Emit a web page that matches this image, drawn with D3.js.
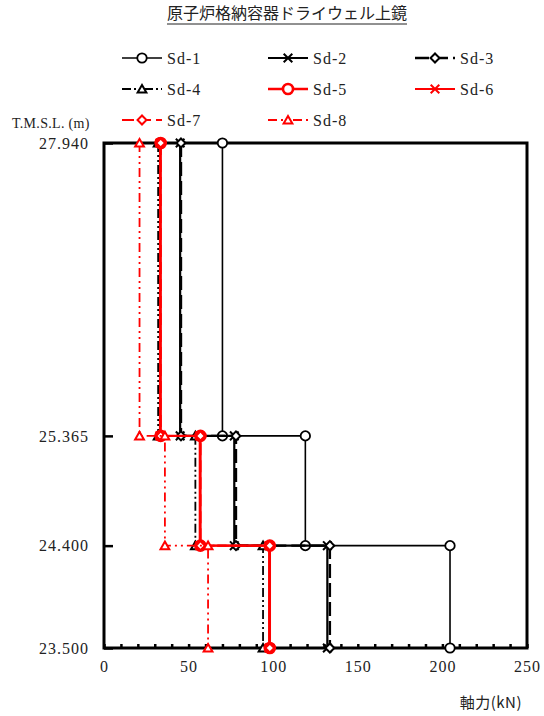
<!DOCTYPE html>
<meta charset="utf-8">
<style>
body { margin: 0; background: #fff; }
text { font-family: "Liberation Serif", "DejaVu Serif", serif; font-size: 16px; fill: #222; letter-spacing: 1px; }
.title { font-family: "Noto Sans CJK JP", sans-serif; font-size: 16px; letter-spacing: 0; }
.jp { font-family: "Noto Sans CJK JP", sans-serif; font-size: 15px; letter-spacing: 0.5px; }
.ylab { font-size: 14px; letter-spacing: 0.3px; }
.axis path { display: none; }
.axis line { stroke: #000; stroke-width: 2.5; }
</style>
<svg width="544" height="716"></svg>
<script src="https://d3js.org/d3.v7.min.js"></script>
<script>

// levels (T.M.S.L., m) and tick labels
var levels = [27.940, 25.365, 24.400, 23.500];
var levelLabels = ["27.940", "25.365", "24.400", "23.500"];
var xTicks = [0, 50, 100, 150, 200, 250];
var xMinorTicks = [0, 10, 20, 30, 40, 50, 60, 70, 80, 90, 100, 110, 120, 130, 140, 150,
                   160, 170, 180, 190, 200, 210, 220, 230, 240, 250];

// axial force per section (kN): 27.940-25.365, 25.365-24.400, 24.400-23.500
var seriesNames = ["Sd-1", "Sd-2", "Sd-3", "Sd-4", "Sd-5", "Sd-6", "Sd-7", "Sd-8"];
var sd1 = [70, 119, 204.5];
var sd2 = [45, 77, 132];
var sd3 = [45.5, 78, 133.5];
var sd4 = [32, 54, 94];
var sd5 = [33.5, 57, 98];
var sd6 = [33, 56.5, 97.5];
var sd7 = [33.5, 57, 98];
var sd8 = [21, 36, 61.5];
var seriesValues = [sd1, sd2, sd3, sd4, sd5, sd6, sd7, sd8];

// looks
var styles = [
  {color: "#000", width: 1.6, dash: null,            sym: "circle",   size: 70},
  {color: "#000", width: 2.2, dash: null,            sym: "x",        size: 50},
  {color: "#000", width: 2.4, dash: "14,5",          sym: "diamond",  size: 40},
  {color: "#000", width: 1.8, dash: "9,3,2,3,2,3",   sym: "triangle", size: 55},
  {color: "#f00", width: 2.4, dash: null,            sym: "circle",   size: 80},
  {color: "#f00", width: 1.8, dash: null,            sym: "x",        size: 50},
  {color: "#f00", width: 2.0, dash: "12,5",          sym: "diamond",  size: 40},
  {color: "#f00", width: 1.8, dash: "9,4,2,4,2,4",   sym: "triangle", size: 55}
];

var svg = d3.select("svg"),
    margin = {top: 143, right: 17, bottom: 68, left: 104},
    width = 544 - margin.left - margin.right,
    height = 716 - margin.top - margin.bottom;

var x = d3.scaleLinear().domain([0, 250]).range([margin.left, margin.left + width]),
    y = d3.scaleLinear().domain([23.5, 27.94]).range([margin.top + height, margin.top]);

// title
var title = svg.append("text")
    .attr("class", "title")
    .attr("x", 287)
    .attr("y", 19)
    .attr("text-anchor", "middle")
    .text("原子炉格納容器ドライウェル上鏡");
var tw = title.node().getComputedTextLength();
svg.append("line")
    .attr("x1", 287 - tw / 2).attr("x2", 287 + tw / 2)
    .attr("y1", 24).attr("y2", 24)
    .attr("stroke", "#222").attr("stroke-width", 1);

// axes
svg.append("g")
    .attr("class", "axis")
    .attr("transform", "translate(0," + (margin.top + height) + ")")
    .call(d3.axisBottom(x).tickValues(xMinorTicks).tickSizeInner(-4).tickSizeOuter(0).tickFormat(""))
    .selectAll("line").attr("stroke-width", 2);

svg.append("g")
    .attr("class", "axis")
    .attr("transform", "translate(0," + (margin.top + height) + ")")
    .call(d3.axisBottom(x).tickValues(xTicks).tickSize(0).tickPadding(13).tickFormat(d3.format("d")))
    .selectAll("text").style("font-size", "16px").style("font-family", "Liberation Serif");

svg.append("g")
    .attr("class", "axis")
    .attr("transform", "translate(" + margin.left + ",0)")
    .call(d3.axisLeft(y).tickValues(levels).tickSizeInner(-9).tickSizeOuter(0).tickPadding(15)
      .tickFormat(function(d, i) { return levelLabels[i]; }))
    .selectAll("text").style("font-size", "16px").style("font-family", "Liberation Serif");

// frame
svg.append("rect")
    .attr("x", x(0)).attr("y", y(27.94))
    .attr("width", x(250) - x(0)).attr("height", y(23.5) - y(27.94))
    .attr("fill", "none").attr("stroke", "#000").attr("stroke-width", 3);

svg.append("text")
    .attr("class", "ylab")
    .attr("x", 12).attr("y", 128)
    .text("T.M.S.L. (m)");

svg.append("text")
    .attr("class", "jp")
    .attr("x", 522).attr("y", 708)
    .attr("text-anchor", "end")
    .text("軸力(kN)");

// symbols
function symbolType(s) {
  if (s == "circle") return d3.symbolCircle;
  if (s == "x") return d3.symbolTimes;
  if (s == "diamond") return d3.symbolSquare;
  return d3.symbolTriangle2;
}
function drawMarker(g, st, px, py) {
  var m = g.append("path")
      .attr("d", d3.symbol().type(symbolType(st.sym)).size(st.size)())
      .attr("stroke", st.color)
      .attr("stroke-width", st.sym == "circle" ? (st.color == "#f00" ? 2.6 : 1.8) : 2)
      .attr("fill", st.sym == "x" ? "none" : "#fff");
  var rot = st.sym == "diamond" ? " rotate(45)" : "";
  var dy = st.sym == "triangle" ? 1 : 0;
  m.attr("transform", "translate(" + px + "," + (py + dy) + ")" + rot);
}

// step profile points from section values
function stepPoints(v) {
  var pts = [];
  v.forEach(function(d, i) {
    pts.push([d, levels[i]]);
    pts.push([d, levels[i + 1]]);
  });
  return pts;
}

var line = d3.line()
    .x(function(d) { return x(d[0]); })
    .y(function(d) { return y(d[1]); });

var plot = svg.append("g");
seriesValues.forEach(function(v, i) {
  var st = styles[i];
  var pts = stepPoints(v);
  var g = plot.append("g");
  g.append("path")
      .attr("d", line(pts))
      .attr("fill", "none")
      .attr("stroke", st.color)
      .attr("stroke-width", st.width)
      .attr("stroke-dasharray", st.dash);
  pts.forEach(function(p) { drawMarker(g, st, x(p[0]), y(p[1])); });
});

// legend
var legX = [122, 268, 415],
    legY = [58, 89, 120];
seriesNames.forEach(function(name, i) {
  var st = styles[i],
      lx = legX[i % 3],
      ly = legY[Math.floor(i / 3)];
  var g = svg.append("g");
  g.append("line")
      .attr("x1", lx).attr("x2", lx + 40)
      .attr("y1", ly).attr("y2", ly)
      .attr("stroke", st.color)
      .attr("stroke-width", st.width)
      .attr("stroke-dasharray", st.dash);
  drawMarker(g, st, lx + 20, ly);
  g.append("text")
      .attr("x", lx + 45).attr("y", ly + 6)
      .text(name);
});

</script>
